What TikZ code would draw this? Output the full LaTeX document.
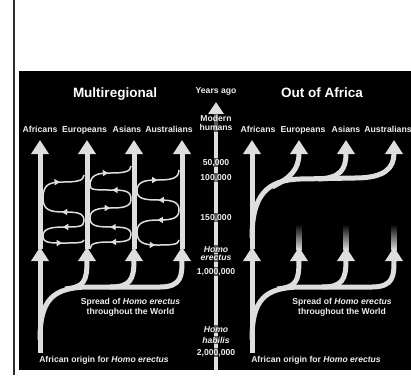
\documentclass[tikz,border=0pt]{standalone}
\usepackage{fontspec}
\setmainfont{Liberation Sans}
\usepackage{tikz}
\usetikzlibrary{arrows.meta, decorations.markings, positioning}
\definecolor{ShaftColor}{RGB}{222,222,222}
\definecolor{LabelColor}{RGB}{238,238,238}
\definecolor{FrameColor}{RGB}{45,45,45}
\tikzstyle{shaft} = [line width=5pt, ShaftColor, -{Triangle[width=17pt,length=14pt]}]
\tikzstyle{axisarrow} = [line width=4.5pt, ShaftColor, -{Triangle[width=15pt,length=12pt]}]
\tikzstyle{flow} = [line width=1.5pt, ShaftColor, postaction={decorate}, decoration={markings, mark=at position 0.5 with {\arrow{Triangle[width=6pt,length=5.5pt]}}}]
\tikzstyle{paneltitle} = [anchor=base, text=white, inner sep=0pt, font=\fontsize{13.5}{15}\selectfont\bfseries]
\tikzstyle{poplabel} = [anchor=base, text=LabelColor, inner sep=0pt, font=\fontsize{8.7}{9}\selectfont\bfseries]
\tikzstyle{captiontext} = [anchor=base, text=LabelColor, inner sep=0pt, font=\fontsize{8.6}{9.7}\selectfont\bfseries]
\tikzstyle{timelabel} = [anchor=base, text=LabelColor, fill=black, fill opacity=0.6, text opacity=1, inner sep=1pt, font=\fontsize{8.6}{9}\selectfont\bfseries]

\begin{document}
\begin{tikzpicture}[x=1pt, y=-1pt]
    \useasboundingbox (0,0) rectangle (411,375);
    % Page frame and dark panel
    \draw[FrameColor, line width=2pt] (14,0) -- (14,375);
    \fill[black] (19,71) rectangle (411,370);

    % Fading stubs above the Out of Africa lineages
    \shade[top color=black, bottom color=ShaftColor] (296.5,224) rectangle (301.5,250);
    \shade[top color=black, bottom color=ShaftColor] (343.5,224) rectangle (348.5,250);
    \shade[top color=black, bottom color=ShaftColor] (391.5,224) rectangle (396.5,250);

    % Multiregional: spread of Homo erectus
    \draw[shaft] (40,353) -- (40,247);
    \draw[shaft] (40,340) .. controls (40,300) and (52,287) .. (90,287) -- (160,287) .. controls (182,287) and (182,275) .. (182,247);
    \draw[shaft] (65,289) .. controls (84,287) and (87,282) .. (87,247);
    \draw[shaft] (110,287) .. controls (130,287) and (134,280) .. (134,247);

    % Multiregional: regional lineages
    \draw[shaft] (40,249) -- (40,140);
    \draw[shaft] (87,249) -- (87,140);
    \draw[shaft] (134,249) -- (134,140);
    \draw[shaft] (182,249) -- (182,140);

    % Gene flow between neighbouring regions
    \draw[flow] (43,198) .. controls (43,184) and (50,182) .. (63,182) .. controls (76,182) and (84,181) .. (84,175);
    \draw[flow] (84,221) .. controls (84,213) and (78,212) .. (64,212) .. controls (50,212) and (43,210) .. (43,198);
    \draw[flow] (84,221) .. controls (84,227) and (78,227) .. (64,227) .. controls (50,227) and (43,229) .. (43,236);
    \draw[flow] (43,236) .. controls (43,243) and (50,243) .. (63,243) .. controls (76,243) and (84,243) .. (84,240);

    \draw[flow] (90,186) .. controls (90,175) and (97,173) .. (110,173) .. controls (123,173) and (131,172) .. (131,166);
    \draw[flow] (131,199) .. controls (131,191) and (125,190) .. (111,190) .. controls (97,190) and (90,190) .. (90,186);
    \draw[flow] (90,218) .. controls (90,210) and (97,208) .. (110,208) .. controls (123,208) and (131,207) .. (131,199);
    \draw[flow] (131,235) .. controls (131,228) and (125,227) .. (111,227) .. controls (97,227) and (90,226) .. (90,218);
    \draw[flow] (131,235) .. controls (131,241) and (125,242) .. (111,242) .. controls (97,242) and (90,243) .. (90,249);

    \draw[flow] (137,191) .. controls (137,182) and (144,180) .. (157,180) .. controls (170,180) and (179,179) .. (179,170);
    \draw[flow] (179,210) .. controls (179,202) and (173,200) .. (159,200) .. controls (145,200) and (137,199) .. (137,191);
    \draw[flow] (179,210) .. controls (179,218) and (173,220) .. (159,220) .. controls (145,220) and (137,222) .. (137,232);
    \draw[flow] (137,232) .. controls (137,243) and (144,245) .. (157,245) .. controls (170,245) and (179,245) .. (179,240);

    % Out of Africa: spread of Homo erectus
    \draw[shaft] (252,353) -- (252,247);
    \draw[shaft] (252,340) .. controls (252,300) and (264,287) .. (302,287) -- (372,287) .. controls (394,287) and (394,275) .. (394,247);
    \draw[shaft] (277,289) .. controls (296,287) and (299,282) .. (299,247);
    \draw[shaft] (322,287) .. controls (342,287) and (346,280) .. (346,247);

    % Out of Africa: recent dispersal
    \draw[shaft] (252,249) -- (252,140);
    \draw[shaft] (252,238) .. controls (252,196) and (266,180) .. (300,179) -- (355,178) .. controls (385,178) and (394,168) .. (394,140);
    \draw[shaft] (272,187) .. controls (290,178) and (299,170) .. (299,140);
    \draw[shaft] (318,179) .. controls (340,178) and (346,170) .. (346,140);

    % Time axis
    \coordinate (axisBottom) at (216,370);
    \coordinate (axisTop) at (216,102);
    \draw[axisarrow] (axisBottom) -- (axisTop);
    \node[timelabel] (yearsAgo) at (216,93.5) {Years ago};
    \node[timelabel] (modernA) at (216,121.7) {Modern};
    \node[timelabel] (modernB) at (216,130.5) {humans};
    \node[timelabel] (t50k) at (216,165) {50,000};
    \node[timelabel] (t100k) at (216,180) {100,000};
    \node[timelabel] (t150k) at (216,220) {150,000};
    \node[timelabel] (erectusA) at (216,252) {\textit{Homo}};
    \node[timelabel] (erectusB) at (216,260.5) {\textit{erectus}};
    \node[timelabel] (t1m) at (216,274) {1,000,000};
    \node[timelabel] (habilisA) at (216,332) {\textit{Homo}};
    \node[timelabel] (habilisB) at (216,343) {\textit{habilis}};
    \node[timelabel] (t2m) at (216,355) {2,000,000};

    % Titles
    \node[paneltitle] (multiTitle) at (115,97.5) {Multiregional};
    \node[paneltitle] (africaTitle) at (322,97.5) {Out of Africa};

    % Population labels
    \node[poplabel] (mAfricans) at (40,132.5) {Africans};
    \node[poplabel] (mEuropeans) at (84.5,132.5) {Europeans};
    \node[poplabel] (mAsians) at (127,132.5) {Asians};
    \node[poplabel] (mAustralians) at (169,132.5) {Australians};
    \node[poplabel] (oAfricans) at (258,132.5) {Africans};
    \node[poplabel] (oEuropeans) at (303,132.5) {Europeans};
    \node[poplabel] (oAsians) at (346,132.5) {Asians};
    \node[poplabel] (oAustralians) at (388,132.5) {Australians};

    % Captions
    \node[captiontext] (mSpreadA) at (130.5,304.5) {Spread of \textit{Homo erectus}};
    \node[captiontext] (mSpreadB) at (130.5,314.5) {throughout the World};
    \node[captiontext] (oSpreadA) at (342,304.5) {Spread of \textit{Homo erectus}};
    \node[captiontext] (oSpreadB) at (342,314.5) {throughout the World};
    \node[captiontext] (mOrigin) at (104,362) {African origin for \textit{Homo erectus}};
    \node[captiontext] (oOrigin) at (316,362) {African origin for \textit{Homo erectus}};
\end{tikzpicture}
\end{document}
